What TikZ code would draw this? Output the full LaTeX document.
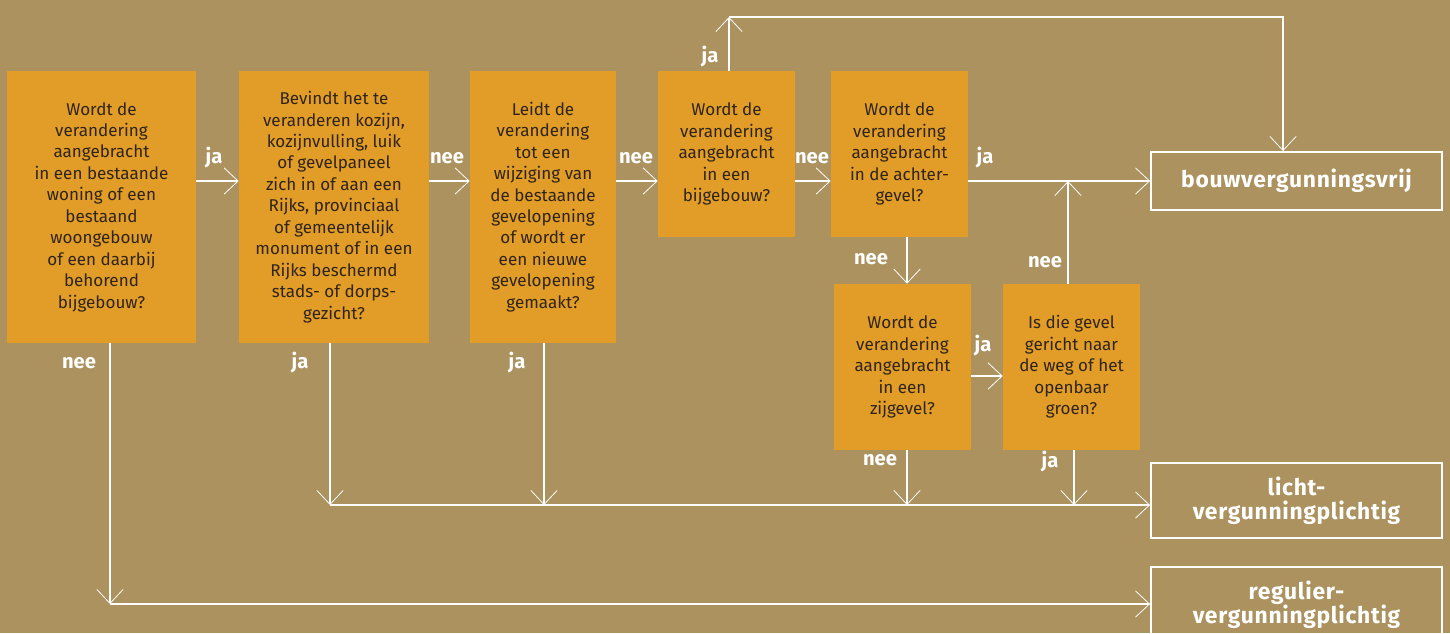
\documentclass[tikz,border=0pt]{standalone}
\usepackage{fontspec}
\setmainfont{Fira Sans}
\usepackage{xcolor}
\usetikzlibrary{arrows.meta}
\definecolor{achter}{HTML}{AB925E}
\definecolor{oranje}{HTML}{E29D28}
\definecolor{inkt}{HTML}{2E2418}

\tikzset{
  vraag/.style={fill=oranje, text=inkt, align=center, inner sep=0pt,
    font=\fontsize{9.7}{12.2}\selectfont},
  uitkomst/.style={draw=white, line width=1.1pt, text=white, align=center,
    minimum width=5.82cm, font=\bfseries\fontsize{13}{13.6}\selectfont\addfontfeatures{LetterSpace=3}},
  pijl/.style={white, line width=0.8pt,
    -{Straight Barb[length=8pt,width=15pt,line width=0.45pt]}},
  lbl/.style={text=white, font=\bfseries\fontsize{11.5}{12}\selectfont},
}

\begin{document}
\begin{tikzpicture}[x=0.02cm, y=-0.02cm]
    \fill[achter] (0,0) rectangle (1450,633);
    \useasboundingbox (0,0) rectangle (1450,633);

    % question boxes
    \node[vraag, minimum width=3.78cm, minimum height=5.44cm] (q1) at (101.5,207)
      {Wordt de\\verandering\\aangebracht\\in een bestaande\\woning of een\\bestaand\\woongebouw\\of een daarbij\\behorend\\bijgebouw?};
    \node[vraag, minimum width=3.8cm, minimum height=5.44cm] (q2) at (334,207)
      {Bevindt het te\\veranderen kozijn,\\kozijnvulling, luik\\of gevelpaneel\\zich in of aan een\\Rijks, provinciaal\\of gemeentelijk\\monument of in een\\Rijks beschermd\\stads- of dorps-\\gezicht?};
    \node[vraag, minimum width=2.92cm, minimum height=5.44cm] (q3) at (543,207)
      {Leidt de\\verandering\\tot een\\wijziging van\\de bestaande\\gevelopening\\of wordt er\\een nieuwe\\gevelopening\\gemaakt?};
    \node[vraag, minimum width=2.74cm, minimum height=3.32cm] (q4) at (726.5,154)
      {Wordt de\\verandering\\aangebracht\\in een\\bijgebouw?};
    \node[vraag, minimum width=2.74cm, minimum height=3.32cm] (q5) at (899.5,154)
      {Wordt de\\verandering\\aangebracht\\in de achter-\\gevel?};
    \node[vraag, minimum width=2.74cm, minimum height=3.32cm] (q6) at (902.5,367)
      {Wordt de\\verandering\\aangebracht\\in een\\zijgevel?};
    \node[vraag, minimum width=2.74cm, minimum height=3.32cm] (q7) at (1071.5,367)
      {Is die gevel\\gericht naar\\de weg of het\\openbaar\\groen?};

    % outcomes
    \node[uitkomst, minimum height=1.16cm] (uA) at (1296.5,181) {bouwvergunningsvrij};
    \node[uitkomst, minimum height=1.5cm] (uB) at (1296.5,500.5) {licht-\\vergunningplichtig};
    \node[uitkomst, minimum height=1.5cm] (uC) at (1296.5,604.5) {regulier-\\vergunningplichtig};

    % bends and junctions
    \coordinate (r1) at (0,181);
    \coordinate (r2) at (0,376);
    \coordinate (t4) at (729,17);
    \coordinate (t5) at (1283,17);
    \coordinate (k7) at (1068,181);
    \coordinate (b1) at (110,604);
    \coordinate (b2) at (330,505);
    \coordinate (b3) at (544,505);
    \coordinate (b6) at (907,505);
    \coordinate (b7) at (1074,505);

    % main row
    \draw[pijl] (q1.east |- r1) -- (q2.west |- r1);
    \draw[pijl] (q2.east |- r1) -- (q3.west |- r1);
    \draw[pijl] (q3.east |- r1) -- (q4.west |- r1);
    \draw[pijl] (q4.east |- r1) -- (q5.west |- r1);
    \draw[pijl] (q5.east |- r1) -- (uA.west |- r1);
    \draw[pijl] (q4.north -| t4) -- (t4);
    \draw[pijl] (t4) -- (t5) -- (t5 |- uA.north);
    \draw[pijl] (q5.south -| b6) -- (q6.north -| b6);
    \draw[pijl] (q6.east |- r2) -- (q7.west |- r2);
    \draw[pijl] (q7.north -| k7) -- (k7);

    % down to the outcomes
    \draw[pijl] (q2.south -| b2) -- (b2);
    \draw[pijl] (q3.south -| b3) -- (b3);
    \draw[pijl] (q6.south -| b6) -- (b6);
    \draw[pijl] (q7.south -| b7) -- (b7);
    \draw[pijl] (b2) -- (b2 -| uB.west);
    \draw[pijl] (q1.south -| b1) -- (b1);
    \draw[pijl] (b1) -- (b1 -| uC.west);

    % answers
    \node[lbl] (l1) at (214,158) {ja};
    \node[lbl] (l2) at (447,158) {nee};
    \node[lbl] (l3) at (636,158) {nee};
    \node[lbl] (l4) at (812,158) {nee};
    \node[lbl] (l5) at (985,158) {ja};
    \node[lbl] (l6) at (710,57) {ja};
    \node[lbl] (l7) at (871,259) {nee};
    \node[lbl] (l8) at (983,346) {ja};
    \node[lbl] (l9) at (1045,262) {nee};
    \node[lbl] (l10) at (880,460) {nee};
    \node[lbl] (l11) at (1050,462) {ja};
    \node[lbl] (l12) at (300,363) {ja};
    \node[lbl] (l13) at (517,363) {ja};
    \node[lbl] (l14) at (79,363) {nee};
\end{tikzpicture}
\end{document}
